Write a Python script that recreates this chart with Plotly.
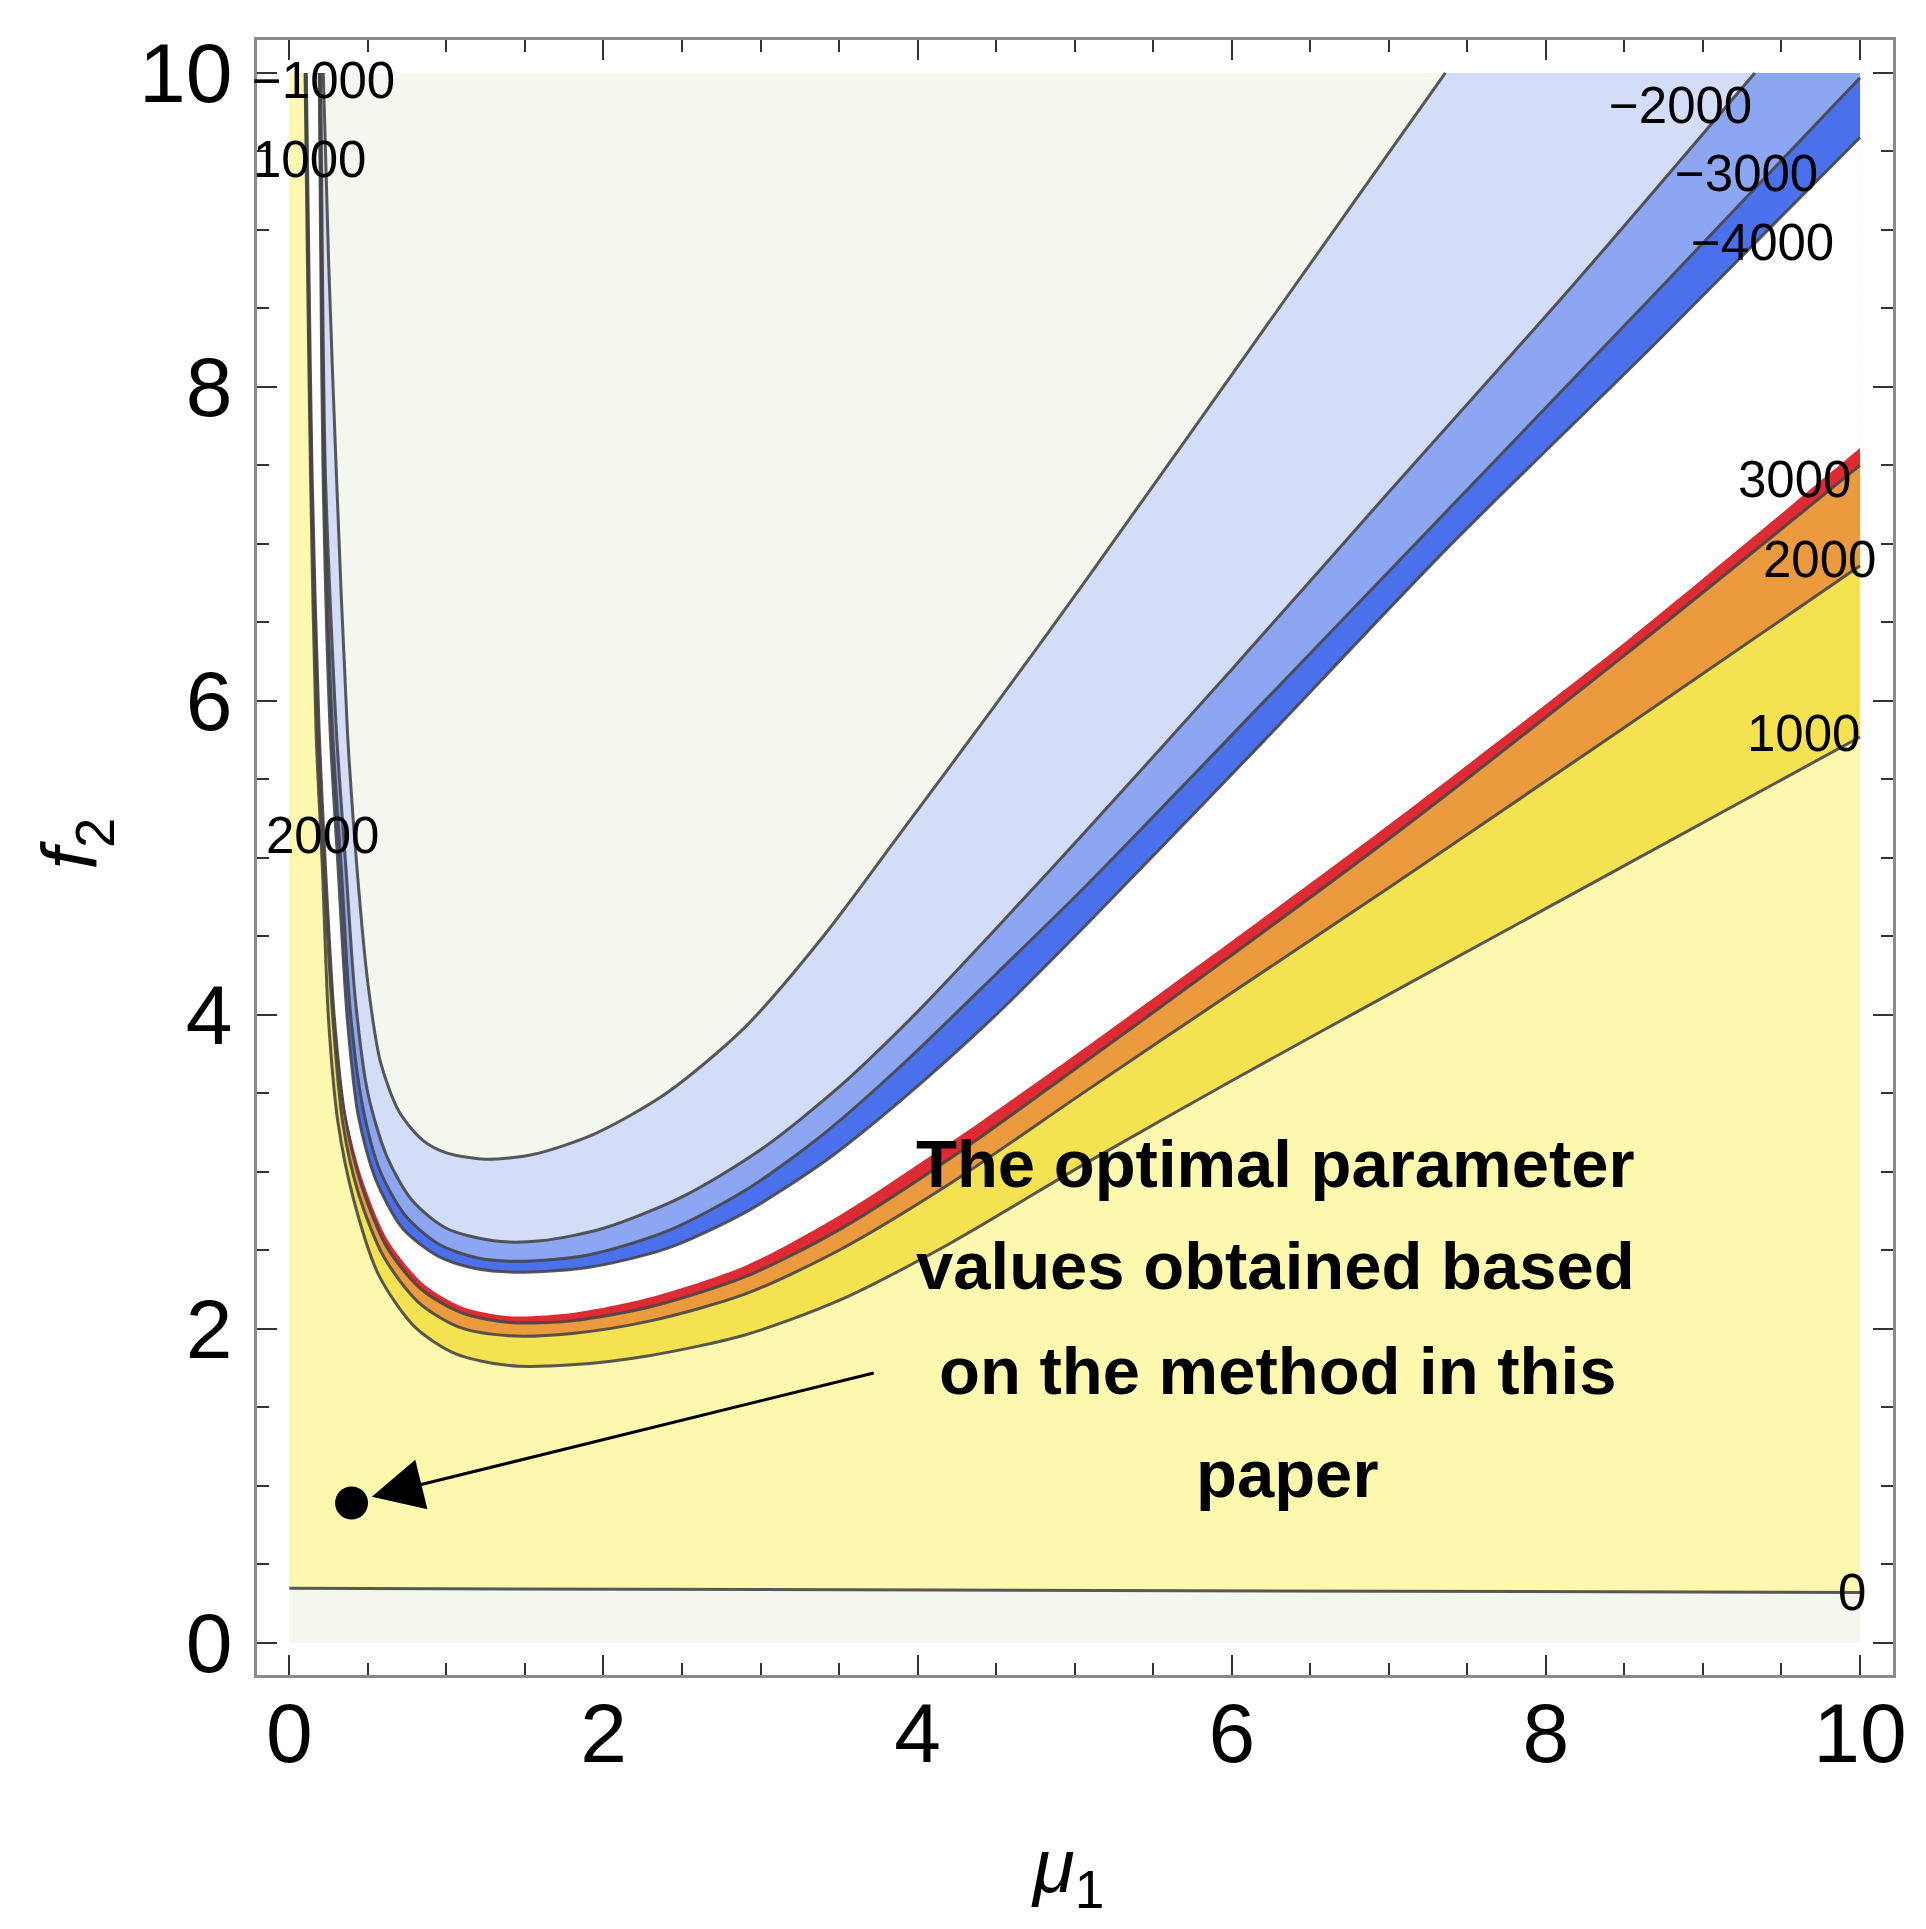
import plotly.graph_objects as go

# contour lines as (mu1, f2) points,
# each one from the top edge down the left arm and out to the right
c0_x = [0, 2, 4, 6, 8, 10]
c0_y = [0.346, 0.341, 0.336, 0.331, 0.326, 0.32]

c1000_x = [0.10, 0.115, 0.135, 0.17, 0.21, 0.25, 0.31, 0.41, 0.57, 0.80, 1.06, 1.4, 1.8, 2.3, 2.9, 3.5, 4.2, 5.08, 6.0, 7.0, 8.5, 10.0]
c1000_y = [10.0, 8.8, 7.43, 5.8, 4.94, 3.96, 3.31, 2.82, 2.34, 2.01, 1.84, 1.765, 1.77, 1.83, 1.96, 2.18, 2.54, 3.06, 3.58, 4.13, 4.95, 5.77]

c2000_x = [0.104, 0.12, 0.14, 0.18, 0.22, 0.275, 0.34, 0.44, 0.60, 0.82, 1.08, 1.4, 1.8, 2.3, 2.9, 3.5, 4.2, 5.08, 6.0, 7.0, 8.5, 10.0]
c2000_y = [10.0, 8.8, 7.43, 5.8, 4.94, 4.0, 3.31, 2.86, 2.46, 2.17, 2.01, 1.955, 1.97, 2.05, 2.22, 2.50, 2.92, 3.52, 4.14, 4.81, 5.83, 6.86]

c3000_x = [0.108, 0.124, 0.145, 0.19, 0.23, 0.285, 0.355, 0.46, 0.62, 0.84, 1.1, 1.4, 1.8, 2.3, 2.9, 3.5, 4.2, 5.08, 6.0, 7.0, 8.5, 10.0]
c3000_y = [10.0, 8.8, 7.43, 5.8, 4.94, 4.0, 3.35, 2.91, 2.52, 2.25, 2.10, 2.04, 2.05, 2.14, 2.33, 2.63, 3.08, 3.71, 4.38, 5.12, 6.29, 7.5]

# upper edge of the red band (no contour line drawn there)
red_x = [0.112, 0.128, 0.15, 0.195, 0.235, 0.29, 0.36, 0.47, 0.63, 0.85, 1.1, 1.4, 1.8, 2.3, 2.9, 3.5, 4.2, 5.08, 6.0, 7.0, 8.5, 10.0]
red_y = [10.0, 8.8, 7.43, 5.8, 4.94, 4.0, 3.37, 2.94, 2.56, 2.29, 2.14, 2.08, 2.10, 2.20, 2.40, 2.72, 3.18, 3.80, 4.47, 5.21, 6.37, 7.61]

cm4000_x = [0.19, 0.2, 0.215, 0.26, 0.31, 0.37, 0.44, 0.55, 0.72, 0.95, 1.2, 1.5, 1.9, 2.4, 2.9, 3.4, 3.9, 4.5, 5.08, 6.2, 7.36, 8.7, 10.0]
cm4000_y = [10.0, 8.8, 7.43, 5.8, 4.94, 3.96, 3.35, 2.95, 2.64, 2.46, 2.38, 2.36, 2.39, 2.51, 2.74, 3.06, 3.46, 4.0, 4.58, 5.74, 6.96, 8.28, 9.59]

cm3000_x = [0.195, 0.205, 0.222, 0.275, 0.33, 0.39, 0.47, 0.58, 0.74, 0.95, 1.2, 1.5, 1.9, 2.4, 2.9, 3.4, 3.9, 4.5, 5.08, 6.2, 7.36, 8.7, 10.0]
cm3000_y = [10.0, 8.8, 7.43, 5.8, 4.94, 4.0, 3.4, 3.0, 2.72, 2.54, 2.45, 2.43, 2.47, 2.62, 2.88, 3.24, 3.68, 4.26, 4.83, 5.99, 7.2, 8.6, 9.97]

cm2000_x = [0.2, 0.21, 0.23, 0.3, 0.36, 0.42, 0.5, 0.62, 0.78, 1.0, 1.3, 1.6, 2.0, 2.5, 3.0, 3.5, 4.0, 4.5, 5.08, 6.0, 7.0, 8.2, 9.33]
cm2000_y = [10.0, 8.8, 7.43, 5.8, 4.94, 4.1, 3.5, 3.1, 2.82, 2.64, 2.56, 2.56, 2.64, 2.84, 3.14, 3.54, 4.02, 4.55, 5.18, 6.2, 7.33, 8.68, 10.0]

cm1000_x = [0.216, 0.25, 0.30, 0.37, 0.43, 0.50, 0.58, 0.70, 0.85, 1.0, 1.25, 1.55, 1.94, 2.4, 2.9, 3.4, 3.9, 4.5, 5.08, 6.2, 7.36]
cm1000_y = [10.0, 8.8, 7.43, 5.8, 4.94, 4.2, 3.7, 3.38, 3.2, 3.12, 3.08, 3.11, 3.24, 3.5, 3.92, 4.5, 5.17, 5.98, 6.78, 8.36, 10.0]

# contour labels
label_text = ["\u22121000", "1000", "2000", "\u22122000", "\u22123000", "\u22124000", "3000", "2000", "1000", "0"]
label_x = [0.22, 0.13, 0.21, 8.86, 9.28, 9.38, 9.58, 9.74, 9.64, 9.95]
label_y = [9.955, 9.45, 5.14, 9.79, 9.36, 8.92, 7.41, 6.90, 5.79, 0.32]

# the marked optimum and the note pointing at it
opt_x = [0.396]
opt_y = [0.89]
note_lines = ["The optimal parameter", "values obtained based", "on the method in this", "paper"]
note_x = [6.28, 6.28, 6.29, 6.35]
note_y = [3.055, 2.405, 1.735, 1.075]

PALE = "#f4f7ee"
LINE = "rgba(70,70,70,0.9)"
FONT = "Liberation Sans, Arial, sans-serif"
SMOOTH = 0.8


def above(xs, ys):
    # region on the upper/inner side of a curve, closed along the top edge;
    # repeated points keep the spline corners sharp at the frame
    px, py = list(xs), list(ys)
    px.append(px[-1])
    py.append(py[-1])
    if py[-1] < 10:
        px += [10, 10]
        py += [10, 10]
    return px, py


fig = go.Figure()

fig.add_trace(go.Scatter(x=[0, 10, 10, 0], y=[0, 0, 10, 10], fill="toself",
                         fillcolor=PALE, line=dict(width=0), mode="lines", hoverinfo="skip"))

fig.add_trace(go.Scatter(x=c0_x + [10, 0], y=c0_y + [10, 10], fill="toself",
                         fillcolor="#fcf8ae", line=dict(width=0), mode="lines", hoverinfo="skip"))

bands = [
    (c1000_x, c1000_y, "#f5e250"),
    (c2000_x, c2000_y, "#eb9a3d"),
    (c3000_x, c3000_y, "#de2a32"),
    (red_x, red_y, "#ffffff"),
    (cm4000_x, cm4000_y, "#4a71eb"),
    (cm3000_x, cm3000_y, "#8ca6f1"),
    (cm2000_x, cm2000_y, "#d3ddf8"),
    (cm1000_x, cm1000_y, PALE),
]
for xs, ys, col in bands:
    px, py = above(xs, ys)
    fig.add_trace(go.Scatter(x=px, y=py, fill="toself", fillcolor=col, mode="lines",
                             line=dict(width=0, shape="spline", smoothing=SMOOTH),
                             hoverinfo="skip"))

fig.add_trace(go.Scatter(x=c0_x, y=c0_y, mode="lines", line=dict(color=LINE, width=3),
                         hoverinfo="skip"))
for xs, ys in [(c1000_x, c1000_y), (c2000_x, c2000_y), (c3000_x, c3000_y),
               (cm4000_x, cm4000_y), (cm3000_x, cm3000_y), (cm2000_x, cm2000_y), (cm1000_x, cm1000_y)]:
    fig.add_trace(go.Scatter(x=xs, y=ys, mode="lines",
                             line=dict(color=LINE, width=3, shape="spline", smoothing=SMOOTH),
                             hoverinfo="skip"))

fig.add_trace(go.Scatter(x=opt_x, y=opt_y, mode="markers",
                         marker=dict(color="black", size=33), hoverinfo="skip"))

for t, x, y in zip(label_text, label_x, label_y):
    fig.add_annotation(x=x, y=y, text=t, showarrow=False,
                       font=dict(family=FONT, size=51, color="black"))

for t, x, y in zip(note_lines, note_x, note_y):
    fig.add_annotation(x=x, y=y, text="<b>" + t + "</b>", showarrow=False,
                       font=dict(family=FONT, size=67, color="black"))

fig.add_annotation(x=0.525, y=0.93, ax=3.73, ay=1.72, axref="x", ayref="y",
                   text="", showarrow=True, arrowhead=2, arrowsize=3.4,
                   arrowwidth=3, arrowcolor="black")

# axis titles
fig.add_annotation(xref="paper", yref="paper", x=0.4956, y=0, yshift=-196,
                   xanchor="center", yanchor="middle",
                   text="<i>\u03bc</i><sub>1</sub>", showarrow=False,
                   font=dict(family=FONT, size=76, color="black"))
fig.add_annotation(xref="paper", yref="paper", x=0, y=0.5085, xshift=-181,
                   xanchor="center", yanchor="middle",
                   text="<i>f</i><sub>2</sub>", showarrow=False, textangle=-90,
                   font=dict(family=FONT, size=78, color="black"))

axis_style = dict(
    range=[-0.206, 10.21], tick0=0, dtick=2, ticks="inside", ticklen=20,
    tickwidth=2, tickcolor="#333", showline=True, linecolor="#8a8a8a",
    linewidth=2.5, mirror="allticks", showgrid=False, zeroline=False,
    tickfont=dict(family=FONT, size=84, color="black"),
    minor=dict(dtick=0.5, ticks="inside", ticklen=12, tickwidth=2, tickcolor="#333"),
)

fig.update_layout(
    width=1926, height=1929,
    margin=dict(l=249, r=41, t=32, b=262),
    paper_bgcolor="white", plot_bgcolor="white",
    showlegend=False,
    xaxis=dict(axis_style, ticklabelstandoff=-17),
    yaxis=dict(axis_style, ticklabelstandoff=5),
)

fig.write_html("out.html")
